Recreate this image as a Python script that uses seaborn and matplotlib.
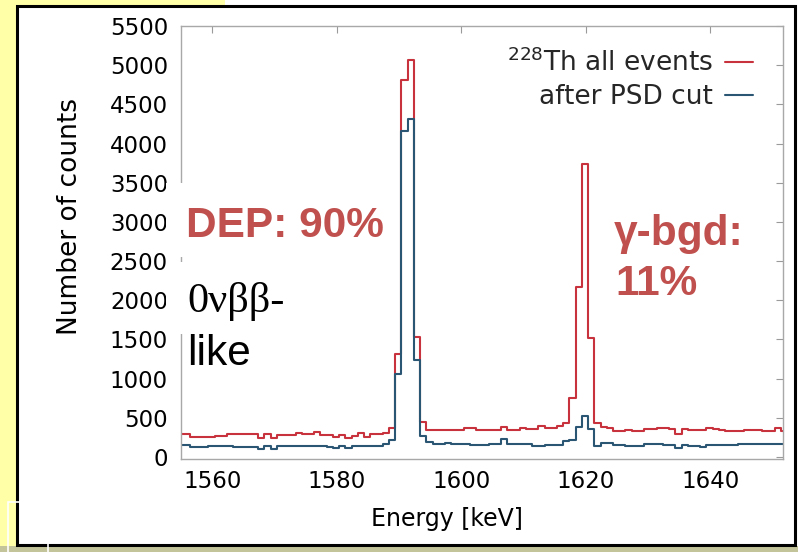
import numpy as np
import pandas as pd
import matplotlib
matplotlib.use("Agg")
import matplotlib.pyplot as plt
from matplotlib.patches import Rectangle
import seaborn as sns

# 1 keV bins, labelled by bin centre
energy_kev = list(range(1555, 1653))

counts_all = [
    289, 289, 254, 254, 254, 262, 271, 271, 296, 289,
    289, 289, 289, 238, 289, 238, 280, 280, 280, 309,
    289, 289, 322, 285, 280, 251, 280, 238, 270, 309,
    260, 293, 293, 309, 365, 1320, 4805, 5060, 1530, 449,
    343, 343, 343, 343, 343, 343, 373, 373, 340, 340,
    340, 340, 382, 343, 343, 373, 355, 355, 398, 365,
    365, 398, 440, 750, 2170, 3740, 1525, 428, 385, 365,
    331, 331, 343, 331, 331, 356, 356, 365, 365, 356,
    289, 356, 343, 343, 343, 365, 356, 343, 331, 331,
    331, 343, 350, 350, 331, 331, 365, 331,
]

counts_psd = [
    153, 153, 131, 131, 131, 140, 140, 140, 140, 127,
    127, 127, 127, 98, 140, 98, 144, 144, 144, 144,
    144, 144, 144, 144, 131, 110, 144, 110, 137, 137,
    137, 137, 137, 161, 220, 1065, 4160, 4310, 1234, 270,
    187, 161, 161, 175, 161, 161, 161, 153, 153, 153,
    170, 170, 225, 170, 161, 161, 161, 140, 140, 153,
    153, 153, 205, 215, 380, 525, 360, 140, 182, 182,
    153, 153, 144, 144, 144, 161, 161, 161, 153, 153,
    119, 153, 140, 140, 123, 153, 153, 153, 153, 153,
    161, 161, 161, 161, 165, 165, 165, 165,
]

series_labels = [r"$^{228}$Th all events", "after PSD cut"]
x_ticks = [1560, 1580, 1600, 1620, 1640]
y_ticks = list(range(0, 5501, 500))

RED = "#c8323c"
BLUE = "#2a5573"
ACCENT = "#C0504D"

W, H = 798, 552
sns.set_theme(style="white")
plt.rcParams["font.family"] = ["DejaVu Sans"]
plt.rcParams["mathtext.fontset"] = "dejavusans"

fig = plt.figure(figsize=(W / 100, H / 100), dpi=100)
fig.patch.set_facecolor("white")


def fx(px):
    return px / W


def fy(py):
    return 1 - py / H


def rect_px(x0, y0, x1, y1, **kw):
    r = Rectangle((fx(x0), fy(y1)), fx(x1) - fx(x0), fy(y0) - fy(y1),
                  transform=fig.transFigure, **kw)
    fig.add_artist(r)
    return r


# slide background around the picture
rect_px(0, 0, 17, 552, facecolor="#ffffa8", edgecolor="none", zorder=0.5)
rect_px(0, 0, 225, 6, facecolor="#ffffa8", edgecolor="none", zorder=0.5)
rect_px(0, 546, 798, 552, facecolor="#c4c49a", edgecolor="none", zorder=0.5)
rect_px(17, 6, 795, 545, facecolor="none", edgecolor="black", linewidth=2.2, zorder=0.6)
rect_px(8, 502, 48, 560, facecolor="none", edgecolor="white", linewidth=1.2, zorder=0.7)

ax = fig.add_axes([fx(181), fy(459), fx(783) - fx(181), fy(26) - fy(459)])
ax.set_facecolor("white")

df = pd.DataFrame({"energy": energy_kev, "all": counts_all, "psd": counts_psd})
lo = energy_kev[0] - 0.6
hi = energy_kev[-1] + 0.4

sns.histplot(data=df, x="energy", weights="all", binwidth=1, binrange=(lo, hi),
             element="step", fill=False, color=RED, linewidth=1.5, ax=ax,
             label=series_labels[0])
sns.histplot(data=df, x="energy", weights="psd", binwidth=1, binrange=(lo, hi),
             element="step", fill=False, color=BLUE, linewidth=1.5, ax=ax,
             label=series_labels[1])

ax.set_xlim(1555, 1651.7)
ax.set_ylim(-25, 5500)
ax.set_xticks(x_ticks)
ax.set_yticks(y_ticks)
ax.tick_params(axis="both", direction="in", length=5, width=0.8, color="#9a9a9a",
               top=True, right=True, labeltop=False, labelright=False,
               labelsize=16.5, labelcolor="black")
ax.tick_params(axis="y", pad=9.4)
ax.tick_params(axis="x", pad=8.0)
for s in ax.spines.values():
    s.set_color("#a8a8a8")
    s.set_linewidth(1.0)

ax.set_xlabel("Energy [keV]", fontsize=17, color="black")
ax.xaxis.set_label_coords(0.442, -0.112)
ax.set_ylabel("Number of counts", fontsize=19, color="black")
ax.yaxis.set_label_coords(-0.163, 0.56)

ax.legend(loc="upper right", bbox_to_anchor=(0.95, 0.948), markerfirst=False,
          frameon=False, fontsize=19, handlelength=1.05, handletextpad=0.45,
          labelspacing=0.28, borderpad=0, borderaxespad=0)

# text boxes laid over the plot
rect_px(166, 183, 394, 257, facecolor="white", edgecolor="none", zorder=1)
rect_px(166, 262, 300, 334, facecolor="white", edgecolor="none", zorder=1)

sans = ["Liberation Sans", "DejaVu Sans"]
serif = ["Liberation Serif", "DejaVu Serif"]
fig.text(fx(186), fy(237), "DEP: 90%", color=ACCENT, fontsize=30.5,
         fontweight="bold", family=sans, va="baseline", ha="left", zorder=3)
fig.text(fx(614), fy(245), "\u03b3-bgd:", color=ACCENT, fontsize=30.5,
         fontweight="bold", family=sans, va="baseline", ha="left", zorder=3)
fig.text(fx(615), fy(295), "11%", color=ACCENT, fontsize=30.5,
         fontweight="bold", family=sans, va="baseline", ha="left", zorder=3)
fig.text(fx(187), fy(312), "0\u03bd\u03b2\u03b2-", color="black", fontsize=30.5,
         family=serif, va="baseline", ha="left", zorder=3)
fig.text(fx(187), fy(365), "like", color="black", fontsize=30.5,
         family=sans, va="baseline", ha="left", zorder=3)

fig.savefig("out.png", dpi=100)
